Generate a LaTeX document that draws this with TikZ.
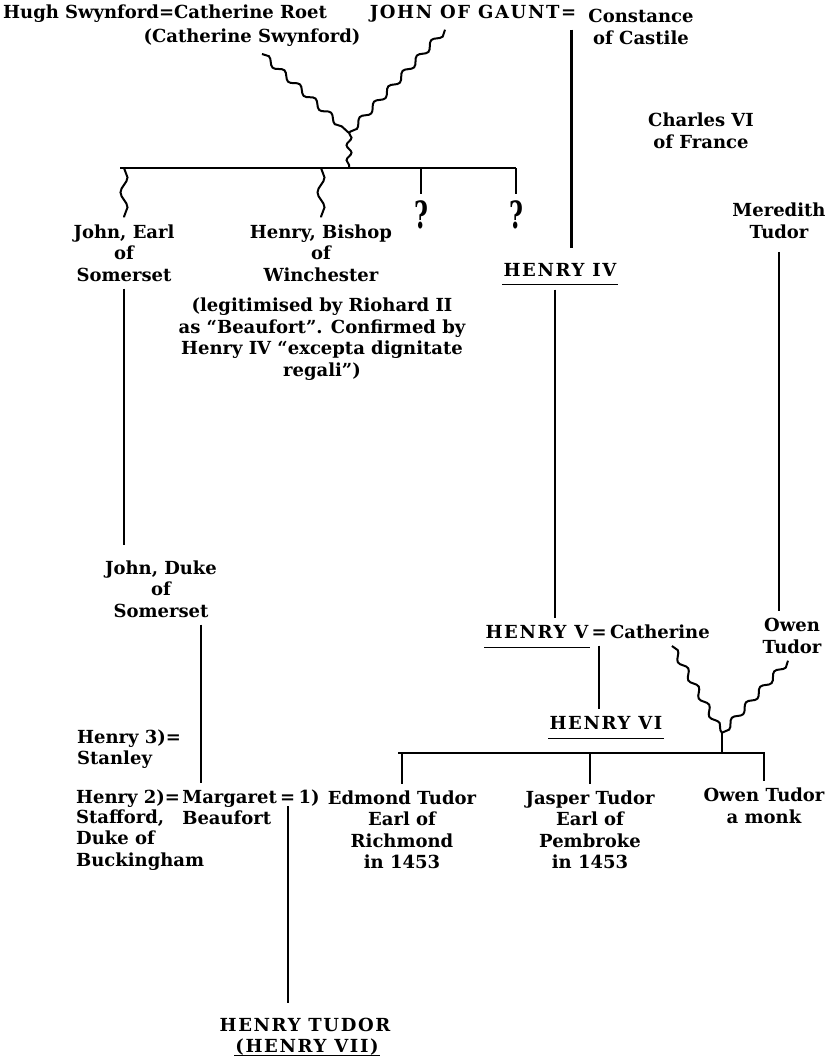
\documentclass[tikz,border=0pt]{standalone}
\usepackage{fontspec}
\setmainfont{DejaVu Serif}
\usetikzlibrary{decorations.pathmorphing,positioning}

\newcommand{\query}{\scalebox{0.95}[1.5]{?}}

\begin{document}
\begin{tikzpicture}[x=1pt, y=-1pt, line width=2.3pt,
  every node/.style={font=\bfseries\fontsize{18}{21.5}\selectfont, inner xsep=2pt, inner ysep=6pt, align=center},
  caps/.style={font=\bfseries\fontsize{18}{21.5}\selectfont\addfontfeature{LetterSpace=9}},
  king/.style={caps, inner xsep=0pt},
  glue/.style={anchor=base west, inner xsep=1pt},
  wavy/.style={line width=2pt, decorate, decoration={snake, amplitude=3pt, segment length=21pt}},
  swavy/.style={line width=2pt, decorate, decoration={snake, amplitude=2.5pt, segment length=15pt}},
  lwavy/.style={line width=2pt, decorate, decoration={snake, amplitude=3.5pt, segment length=30pt}}]
  \useasboundingbox (0,0) rectangle (840,1057);

  \node (hughcath) at (165,14) {Hugh Swynford=Catherine Roet};
  \node (cathsw) at (252,38) {(Catherine Swynford)};
  \node[caps] (gaunt) at (473,14) {JOHN OF GAUNT=};
  \node (const) at (641,27) {Constance\\of Castile};
  \node (charles) at (701,131) {Charles VI\\of France};
  \node (meredith) at (779,221) {Meredith\\Tudor};

  \coordinate (j1) at (349,133);
  \coordinate (barw) at (120,168);
  \coordinate (bare) at (516,168);
  \node (jearl) at (124,253) {John, Earl\\of\\Somerset};
  \node (hbishop) at (321,253) {Henry, Bishop\\of\\Winchester};
  \node[inner ysep=1pt, font=\bfseries\fontsize{25}{25}\selectfont] (q1) at (421,215) {\query};
  \node[inner ysep=1pt, font=\bfseries\fontsize{25}{25}\selectfont] (q2) at (516,215) {\query};
  \node (note) at (322,339) {(legitimised by Riohard II\\as ``Beaufort''. Confirmed by\\Henry IV ``excepta dignitate\\regali'')};
  \node[king] (h4) at (560,270) {HENRY IV};

  \node (jduke) at (161,589) {John, Duke\\of\\Somerset};
  \node[king] (h5) at (537,632) {HENRY V};
  \node[glue] (eq5) at (h5.base east) {=};
  \node[glue, inner xsep=0pt] (cath2) at (eq5.base east) {Catherine};
  \node (owen) at (792,636) {Owen\\Tudor};
  \node[king] (h6) at (606,723) {HENRY VI};
  \coordinate (j2) at (722,733);
  \coordinate (bar2w) at (398,753);
  \coordinate (bar2e) at (765,753);

  \node[align=left, anchor=west] (h3) at (74,749) {Henry 3)=\\Stanley};
  \node[anchor=base west, inner xsep=0pt] (h2) at (75,803) {Henry 2)=};
  \node[glue, inner xsep=0pt] (marg) at (h2.base east) {Margaret};
  \node[glue] (meq) at (marg.base east) {=};
  \node[glue, inner xsep=0pt] (first) at (meq.base east) {1)};
  \node[anchor=base west, inner xsep=0pt] (beaufort) at ([yshift=-21.5pt]marg.base west) {Beaufort};
  \node[align=left, anchor=west, inner xsep=0pt] (stafford) at (75,840) {Stafford,\\Duke of\\Buckingham};
  \node (edmond) at (402,830) {Edmond Tudor\\Earl of\\Richmond\\in 1453};
  \node (jasper) at (590,830) {Jasper Tudor\\Earl of\\Pembroke\\in 1453};
  \node (owen2) at (764,806) {Owen Tudor\\a monk};

  \node[caps] (htudor) at (305,1025) {HENRY TUDOR};
  \node[king, inner ysep=2pt] (h7) at (307,1047) {(HENRY VII)};

  \foreach \k/\d in {h4/-8pt, h5/-9pt, h6/-9pt, h7/-3pt}
    \draw[line width=1.8pt] ([yshift=\d]\k.base west) -- ([yshift=\d]\k.base east);

  \draw[wavy] ([xshift=10pt]cathsw.south) -- (j1);
  \draw[wavy] ([xshift=-28pt]gaunt.south) -- (j1);
  \draw[swavy] (j1) -- (j1 |- barw);
  \draw (barw) -- (bare);
  \draw[lwavy] (jearl.north |- barw) -- (jearl.north);
  \draw[lwavy] (hbishop.north |- barw) -- (hbishop.north);
  \foreach \q in {q1, q2}
    \draw[shorten >=5pt] (\q.north |- barw) -- (\q.north);

  \coordinate (gline) at ([xshift=-8pt]gaunt.south east);
  \draw[shorten >=8pt] (gline) -- (gline |- h4.north);
  \coordinate (h4line) at ([xshift=-5pt]h4.south);
  \draw[shorten <=6pt] (h4line) -- (h4line |- h5.north);
  \draw[shorten <=6pt] (meredith.south) -- (meredith.south |- owen.north);
  \draw[shorten >=8pt] (jearl.south) -- (jearl.south |- jduke.north);
  \coordinate (mtop) at ([xshift=20pt]marg.north west);
  \draw (mtop |- jduke.south) -- (mtop);
  \draw (eq5.south) -- (eq5.south |- h6.north);
  \draw[shorten <=-4pt, shorten >=8pt] (meq.south) -- (meq.south |- htudor.north);

  \draw[wavy] ([xshift=12pt]cath2.south) -- (j2);
  \draw[wavy] ([xshift=-4pt]owen.south) -- (j2);
  \draw (j2) -- (j2 |- bar2w);
  \draw (bar2w) -- (bar2e);
  \foreach \c in {edmond, jasper, owen2}
    \draw (\c.north |- bar2w) -- (\c.north);
\end{tikzpicture}
\end{document}
